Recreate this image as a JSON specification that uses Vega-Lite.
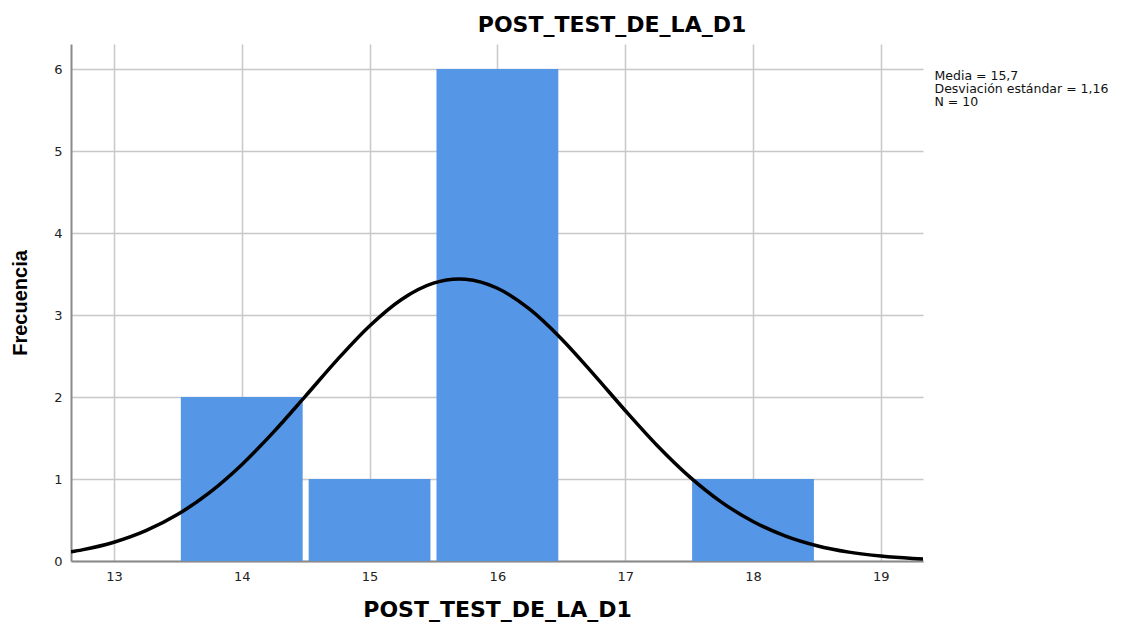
{
  "$schema": "https://vega.github.io/schema/vega-lite/v6.json",
  "autosize": "none",
  "width": 852,
  "height": 517,
  "padding": {"left": 71, "top": 44, "right": 207, "bottom": 65},
  "background": "white",
  "config": {
    "font": "DejaVu Sans",
    "view": {"stroke": null}
  },
  "title": {
    "text": "POST_TEST_DE_LA_D1",
    "font": "DejaVu Sans",
    "fontSize": 22,
    "fontWeight": "bold",
    "color": "#000000",
    "anchor": "middle",
    "dx": 115,
    "offset": 7
  },
  "datasets": {
    "bars": [
      {"bin_start": 13.5, "bin_end": 14.5, "count": 2},
      {"bin_start": 14.5, "bin_end": 15.5, "count": 1},
      {"bin_start": 15.5, "bin_end": 16.5, "count": 6},
      {"bin_start": 17.5, "bin_end": 18.5, "count": 1}
    ],
    "curve": [
      {"x": 12.664, "y": 0.111},
      {"x": 12.75, "y": 0.1356},
      {"x": 13.0, "y": 0.2291},
      {"x": 13.25, "y": 0.3697},
      {"x": 13.5, "y": 0.5694},
      {"x": 13.75, "y": 0.8372},
      {"x": 14.0, "y": 1.175},
      {"x": 14.25, "y": 1.5745},
      {"x": 14.5, "y": 2.014},
      {"x": 14.75, "y": 2.4592},
      {"x": 15.0, "y": 2.8666},
      {"x": 15.25, "y": 3.1898},
      {"x": 15.5, "y": 3.3883},
      {"x": 15.7, "y": 3.439},
      {"x": 15.75, "y": 3.4358},
      {"x": 16.0, "y": 3.3259},
      {"x": 16.25, "y": 3.0734},
      {"x": 16.5, "y": 2.7111},
      {"x": 16.75, "y": 2.283},
      {"x": 17.0, "y": 1.8354},
      {"x": 17.25, "y": 1.4084},
      {"x": 17.5, "y": 1.0318},
      {"x": 17.75, "y": 0.7215},
      {"x": 18.0, "y": 0.4817},
      {"x": 18.25, "y": 0.307},
      {"x": 18.5, "y": 0.1867},
      {"x": 18.75, "y": 0.1085},
      {"x": 19.0, "y": 0.0601},
      {"x": 19.25, "y": 0.0318},
      {"x": 19.33, "y": 0.0257}
    ],
    "stats": [
      {"stat": "Media = 15,7"},
      {"stat": "Desviación estándar = 1,16"},
      {"stat": "N = 10"}
    ]
  },
  "layer": [
    {
      "data": {"name": "bars"},
      "mark": {"type": "rect", "color": "#5596E6", "xOffset": 3, "x2Offset": -3},
      "encoding": {
        "x": {
          "field": "bin_start",
          "type": "quantitative",
          "scale": {"domain": [12.664, 19.33], "nice": false, "zero": false},
          "axis": {
            "title": "POST_TEST_DE_LA_D1",
            "titleFont": "DejaVu Sans",
            "titleFontSize": 22,
            "titleFontWeight": "bold",
            "titleColor": "#000000",
            "titlePadding": 16,
            "values": [13, 14, 15, 16, 17, 18, 19],
            "format": "d",
            "labelFont": "DejaVu Sans",
            "labelFontSize": 13,
            "labelColor": "#222222",
            "labelPadding": 9,
            "ticks": false,
            "domainColor": "#8a8a8a",
            "domainWidth": 2,
            "grid": true,
            "gridColor": "#c8c8c8",
            "gridWidth": 1.5
          }
        },
        "x2": {"field": "bin_end"},
        "y": {
          "field": "count",
          "type": "quantitative",
          "scale": {"domain": [0, 6.305], "nice": false},
          "axis": {
            "title": "Frecuencia",
            "titleFont": "Liberation Sans",
            "titleFontSize": 20,
            "titleFontWeight": "bold",
            "titleColor": "#000000",
            "titlePadding": 23,
            "values": [0, 1, 2, 3, 4, 5, 6],
            "format": "d",
            "labelFont": "DejaVu Sans",
            "labelFontSize": 13,
            "labelColor": "#222222",
            "labelPadding": 9,
            "ticks": false,
            "domainColor": "#8a8a8a",
            "domainWidth": 2,
            "grid": true,
            "gridColor": "#c8c8c8",
            "gridWidth": 1.5
          }
        },
        "y2": {"datum": 0}
      }
    },
    {
      "data": {"name": "curve"},
      "mark": {"type": "line", "color": "#000000", "strokeWidth": 3.5, "interpolate": "monotone", "clip": true},
      "encoding": {
        "x": {"field": "x", "type": "quantitative"},
        "y": {"field": "y", "type": "quantitative"}
      }
    },
    {
      "data": {"name": "stats"},
      "mark": {"type": "point", "opacity": 0, "size": 0},
      "encoding": {
        "color": {
          "field": "stat",
          "type": "nominal",
          "scale": {"domain": ["Media = 15,7", "Desviación estándar = 1,16", "N = 10"], "range": ["#ffffff", "#ffffff", "#ffffff"]},
          "legend": {
            "title": null,
            "orient": "none",
            "legendX": 851,
            "legendY": 26,
            "symbolSize": 0,
            "symbolOpacity": 0,
            "symbolStrokeWidth": 0,
            "labelOffset": 0,
            "labelFont": "DejaVu Sans",
            "labelFontSize": 12.5,
            "labelColor": "#111111",
            "labelLimit": 400,
            "rowPadding": 0,
            "padding": 0
          }
        }
      }
    }
  ]
}
